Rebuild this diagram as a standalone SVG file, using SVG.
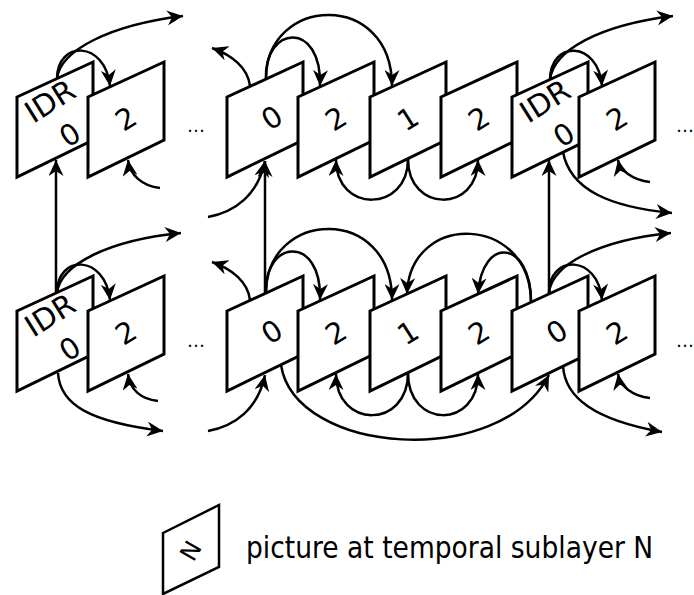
<svg xmlns="http://www.w3.org/2000/svg" width="694" height="595" viewBox="0 0 694 595">
<style>
.frame{fill:#fff;stroke:#000;stroke-width:3;stroke-linejoin:miter}
.c{fill:none;stroke:#000;stroke-width:2.5}
.a{marker-end:url(#ah)}
.lbl{font-family:"DejaVu Sans",sans-serif;font-size:29px;fill:#000;text-anchor:middle;dominant-baseline:central}
.idr{font-family:"DejaVu Sans",sans-serif;font-size:30px;fill:#000;text-anchor:middle;dominant-baseline:central}
.dots{font-family:"DejaVu Sans",sans-serif;font-size:18px;fill:#000}
.leg{font-family:"DejaVu Sans Condensed","DejaVu Sans",sans-serif;font-stretch:condensed;font-size:29.5px;fill:#000}
</style>
<defs>
<marker id="ah" markerUnits="userSpaceOnUse" markerWidth="17" markerHeight="15" refX="16" refY="7.5" orient="auto">
<path d="M0,0 L16,7.5 L0,15 L5,7.5 z" fill="#000"/>
</marker>
<path id="fr" d="M0,0 L76,-35 L76,43 L0,80 Z"/>
</defs>
<g id="connectors">
<path class="c a" d="M57,79 C60,50 110,25 183,16"/>
<path class="c a" d="M57,79 C57,40 105,40 110,86"/>
<path class="c a" d="M160,188 C142,186 130,175 128,160"/>
<path class="c a" d="M56,293 L56,160"/>
<path class="c a" d="M250,86 C248,68 232,55 212,48"/>
<path class="c a" d="M266,79 C264,25 322,20 320,86"/>
<path class="c a" d="M266,79 C266,-5 392,-10 392,86"/>
<path class="c a" d="M208,217 C235,212 258,195 265,161"/>
<path class="c a" d="M265,293 L265,161"/>
<path class="c a" d="M408,159 C408,213 336,213 336,160"/>
<path class="c a" d="M408,159 C408,213 478,213 478,160"/>
<path class="c a" d="M550,80 C553,50 600,25 673,16"/>
<path class="c a" d="M550,80 C550,40 598,40 602,86"/>
<path class="c a" d="M549,293 L549,160"/>
<path class="c a" d="M563,152 C570,190 610,207 672,213"/>
<path class="c a" d="M650,182 C632,180 620,170 618,160"/>
<path class="c a" d="M57,293 C60,264 110,240 181,233"/>
<path class="c a" d="M57,293 C57,254 105,254 110,300"/>
<path class="c a" d="M58,373 C60,405 90,422 163,431"/>
<path class="c a" d="M158,401 C140,399 130,389 128,374"/>
<path class="c a" d="M250,300 C248,282 232,269 212,262"/>
<path class="c a" d="M266,293 C264,239 322,234 320,300"/>
<path class="c a" d="M266,293 C266,209 392,204 392,300"/>
<path class="c a" d="M208,431 C235,426 258,409 265,375"/>
<path class="c a" d="M281,365 C295,455 500,470 549,375"/>
<path class="c a" d="M408,373 C408,429 336,429 336,374"/>
<path class="c a" d="M408,373 C408,429 478,429 478,374"/>
<path class="c a" d="M531,302 C531,215 410,210 407,294"/>
<path class="c a" d="M531,302 C531,240 482,235 478,294"/>
<path class="c a" d="M549,293 C552,264 600,240 671,233"/>
<path class="c a" d="M549,293 C549,254 598,254 602,300"/>
<path class="c a" d="M563,366 C565,398 595,420 662,432"/>
<path class="c a" d="M650,398 C632,396 620,386 618,374"/>
</g>
<g id="t-idr0a"><use href="#fr" class="frame" x="17" y="97"/><text class="idr" transform="translate(50,101) rotate(-32)">IDR</text><text class="lbl" transform="translate(70,135) rotate(-32)">0</text></g>
<g id="t-2a"><use href="#fr" class="frame" x="88" y="97"/><text class="lbl" transform="translate(126,119) rotate(-32)">2</text></g>
<g id="t-0b"><use href="#fr" class="frame" x="227" y="97"/><text class="lbl" transform="translate(272,118) rotate(-32)">0</text></g>
<g id="t-2b"><use href="#fr" class="frame" x="298" y="97"/><text class="lbl" transform="translate(336,119) rotate(-32)">2</text></g>
<g id="t-1b"><use href="#fr" class="frame" x="370" y="97"/><text class="lbl" transform="translate(408,119) rotate(-32)">1</text></g>
<g id="t-2c"><use href="#fr" class="frame" x="441" y="97"/><text class="lbl" transform="translate(479,119) rotate(-32)">2</text></g>
<g id="t-idr0d"><use href="#fr" class="frame" x="512" y="97"/><text class="idr" transform="translate(545,101) rotate(-32)">IDR</text><text class="lbl" transform="translate(564,135) rotate(-32)">0</text></g>
<g id="t-2d"><use href="#fr" class="frame" x="579" y="97"/><text class="lbl" transform="translate(617,119) rotate(-32)">2</text></g>
<g id="b-idr0a"><use href="#fr" class="frame" x="17" y="311"/><text class="idr" transform="translate(50,315) rotate(-32)">IDR</text><text class="lbl" transform="translate(70,349) rotate(-32)">0</text></g>
<g id="b-2a"><use href="#fr" class="frame" x="88" y="311"/><text class="lbl" transform="translate(126,333) rotate(-32)">2</text></g>
<g id="b-0b"><use href="#fr" class="frame" x="227" y="311"/><text class="lbl" transform="translate(272,332) rotate(-32)">0</text></g>
<g id="b-2b"><use href="#fr" class="frame" x="298" y="311"/><text class="lbl" transform="translate(336,333) rotate(-32)">2</text></g>
<g id="b-1b"><use href="#fr" class="frame" x="370" y="311"/><text class="lbl" transform="translate(408,333) rotate(-32)">1</text></g>
<g id="b-2c"><use href="#fr" class="frame" x="441" y="311"/><text class="lbl" transform="translate(479,333) rotate(-32)">2</text></g>
<g id="b-0d"><use href="#fr" class="frame" x="512" y="311"/><text class="lbl" transform="translate(557,332) rotate(-32)">0</text></g>
<g id="b-2d"><use href="#fr" class="frame" x="579" y="311"/><text class="lbl" transform="translate(617,333) rotate(-32)">2</text></g>
<text class="dots" x="187" y="132">…</text>
<text class="dots" x="676" y="132">…</text>
<text class="dots" x="187" y="347">…</text>
<text class="dots" x="676" y="347">…</text>
<g id="legend">
<path class="frame" d="M163,533 L219,505 L219,567 L163,594 Z" style="stroke-width:2.5"/>
<text class="lbl" style="font-size:24px" transform="translate(191,551) rotate(-60)">N</text>
<text class="leg" x="246" y="558">picture at temporal sublayer N</text>
</g>
</svg>
